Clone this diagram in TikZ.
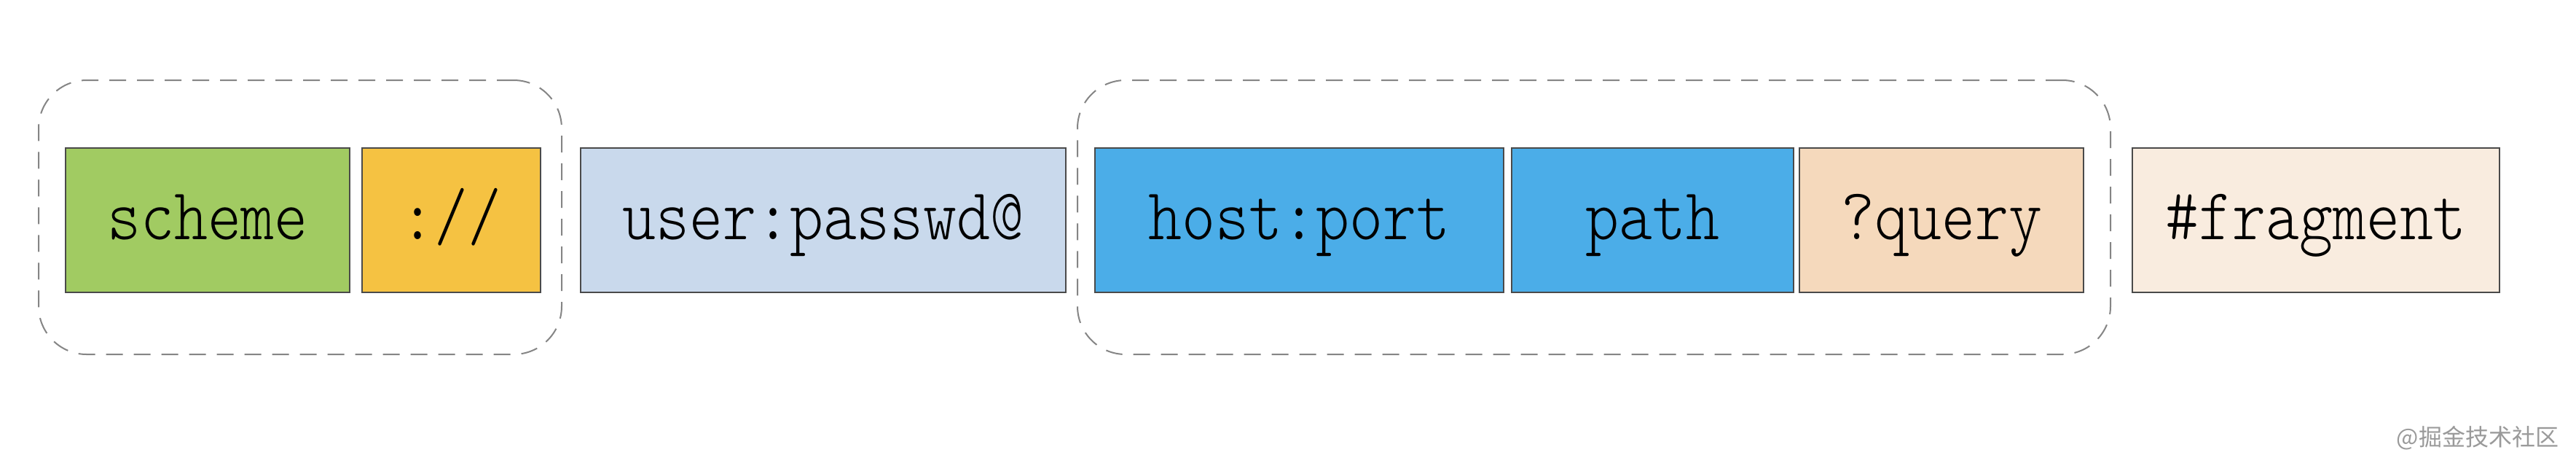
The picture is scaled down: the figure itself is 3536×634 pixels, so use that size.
\documentclass[tikz,border=0pt]{standalone}
\usepackage{fontspec}
\newfontfamily\cjk{Noto Sans CJK SC}
\newfontfamily\lmlight{lmmonolt10-regular.otf}
\definecolor{cgreen}{HTML}{A1CB62}
\definecolor{corange}{HTML}{F5C242}
\definecolor{clight}{HTML}{C9D9EC}
\definecolor{cblue}{HTML}{4BADE8}
\definecolor{cpeach}{HTML}{F5D9BC}
\definecolor{ccream}{HTML}{F9ECDF}
\definecolor{cborder}{HTML}{4A4A4A}
\definecolor{cdash}{HTML}{858585}
\definecolor{cmark}{HTML}{9A9A9A}
\tikzset{
  part/.style={draw=cborder, line width=0.375pt, inner sep=0pt, outer sep=0pt,
    minimum height=49.5pt, text height=16pt, text depth=3pt,
    font=\lmlight\fontsize{21.9}{26}\selectfont},
  groupbox/.style={draw=cdash, line width=0.5pt, dash pattern=on 5.75pt off 3.75pt,
    rounded corners=16.5pt, minimum height=94pt, inner sep=0pt}
}
\newcommand{\tall}[1]{\scalebox{1}[1.15]{#1}}
\begin{document}
\begin{tikzpicture}[x=0.25pt,y=-0.25pt]
\useasboundingbox[fill=white] (0,0) rectangle (3536,634);
% groups
\node (g1) [groupbox, minimum width=179.5pt] at (412,298) {};
\node (g2) [groupbox, minimum width=354.5pt] at (2188,298) {};
% parts
\node (scheme) [part, fill=cgreen, minimum width=97.5pt] at (285,302) {\tall{scheme}};
\node (sep) [part, fill=corange, minimum width=61.25pt] at (619.5,302) {\tall{://}};
\node (user) [part, fill=clight, minimum width=166.5pt] at (1130,302) {\tall{user:passwd@}};
\node (host) [part, fill=cblue, minimum width=140.25pt] at (1783.5,302) {\tall{host:port}};
\node (path) [part, fill=cblue, minimum width=96.75pt] at (2268.5,302) {\tall{path}};
\node (query) [part, fill=cpeach, minimum width=97.5pt] at (2665,302) {\tall{?query}};
\node (frag) [part, fill=ccream, minimum width=126pt] at (3179,302) {\tall{\#fragment}};
% watermark
\node (wm) [anchor=east, inner sep=0pt, text=cmark, font=\cjk\fontsize{8}{9}\selectfont] at (3513,601) {@掘金技术社区};
\end{tikzpicture}
\end{document}
